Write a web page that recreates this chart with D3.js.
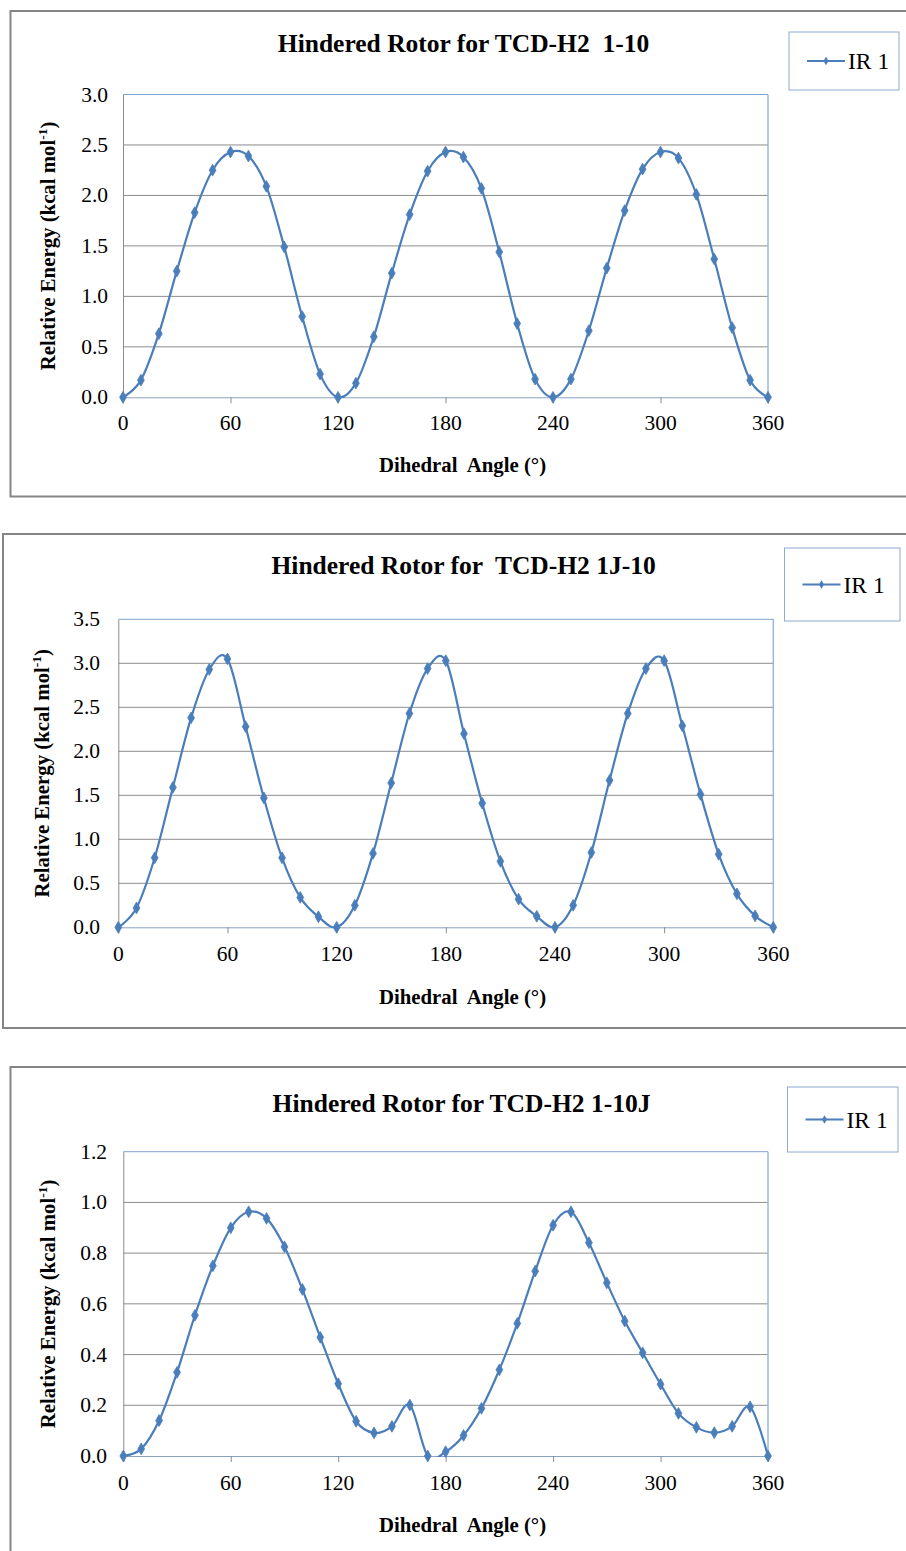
<!DOCTYPE html>
<html>
<head>
<meta charset="utf-8">
<script src="https://cdn.jsdelivr.net/npm/d3@7"></script>
<style>
  html, body { margin: 0; padding: 0; background: #fff; }
  svg { display: block; }
  text { font-family: "Liberation Serif", "Times New Roman", serif; fill: #000; white-space: pre; }
</style>
</head>
<body>
<script>
// ---------- data ----------
const angles = [0,10,20,30,40,50,60,70,80,90,100,110,120,130,140,150,160,170,180,
                190,200,210,220,230,240,250,260,270,280,290,300,310,320,330,340,350,360];

const energy_1_10 = [0.00,0.17,0.63,1.25,1.83,2.25,2.43,2.39,2.09,1.49,0.80,0.23,0.00,0.14,0.60,1.23,1.81,2.24,
                     2.43,2.38,2.07,1.44,0.73,0.18,0.00,0.18,0.66,1.28,1.85,2.26,2.43,2.37,2.01,1.37,0.69,0.17,0.00];

const energy_1J_10 = [0.00,0.22,0.79,1.59,2.38,2.93,3.05,2.28,1.47,0.79,0.34,0.12,0.00,0.25,0.84,1.64,2.43,2.94,
                      3.03,2.20,1.41,0.75,0.32,0.125,0.00,0.25,0.85,1.67,2.43,2.94,3.03,2.29,1.51,0.83,0.38,0.13,0.00];

const energy_1_10J = [0.00,0.028,0.14,0.33,0.555,0.75,0.90,0.963,0.937,0.825,0.657,0.468,0.285,0.137,0.091,0.117,0.201,0.00,
                      0.017,0.081,0.188,0.34,0.523,0.729,0.91,0.963,0.841,0.683,0.532,0.407,0.283,0.168,0.113,0.092,0.117,0.194,0.00];

const xTicks = [0,60,120,180,240,300,360];
const yTicks_1_10  = [0,0.5,1.0,1.5,2.0,2.5,3.0];
const yTicks_1J_10 = [0,0.5,1.0,1.5,2.0,2.5,3.0,3.5];
const yTicks_1_10J = [0,0.2,0.4,0.6,0.8,1.0,1.2];

const titles = ["Hindered Rotor for TCD-H2  1-10", "Hindered Rotor for  TCD-H2 1J-10", "Hindered Rotor for TCD-H2 1-10J"];
const seriesName = "IR 1";
const xAxisTitle = "Dihedral  Angle (\u00B0)";
const yAxisTitleMain = "Relative Energy (kcal mol";
const yAxisTitleSup = "-1";

// ---------- layout ----------
const W = 906, H = 1551;
const BLUE = "#4a7ebb";
const charts = [
  { title: titles[0], values: energy_1_10, yTicks: yTicks_1_10,
    frame: {x: 10.5, y: 11, w: 910, h: 485.5},
    plot: {l: 123, r: 768, t: 94.5, b: 397.3},
    legend: {x: 789, y: 32, w: 110, h: 58},
    titleX: 463.5, titleY: 52, tickY: 430, xTitleX: 462.5, xTitleY: 472, yTitleX: 48, yLabelRight: 108 },
  { title: titles[1], values: energy_1J_10, yTicks: yTicks_1J_10,
    frame: {x: 3, y: 534, w: 920, h: 494},
    plot: {l: 118.3, r: 773.3, t: 619.3, b: 927.3},
    legend: {x: 784.5, y: 548, w: 115.5, h: 73},
    titleX: 463.6, titleY: 574, tickY: 960.5, xTitleX: 462.5, xTitleY: 1004, yTitleX: 42, yLabelRight: 100 },
  { title: titles[2], values: energy_1_10J, yTicks: yTicks_1_10J,
    frame: {x: 10.5, y: 1067, w: 910, h: 600},
    plot: {l: 123.3, r: 768, t: 1151.7, b: 1456},
    legend: {x: 787.5, y: 1087, w: 110.5, h: 65},
    titleX: 461.5, titleY: 1112, tickY: 1490, xTitleX: 462.5, xTitleY: 1532, yTitleX: 48, yLabelRight: 107 }
];

const svg = d3.select("body").append("svg").attr("width", W).attr("height", H);

charts.forEach((c, ci) => {
  const g = svg.append("g");
  // frame
  g.append("rect").attr("x", c.frame.x).attr("y", c.frame.y)
    .attr("width", c.frame.w).attr("height", c.frame.h)
    .attr("fill", "#fff").attr("stroke", "#858585").attr("stroke-width", 2);

  const x = d3.scaleLinear().domain([0, 360]).range([c.plot.l, c.plot.r]);
  const yMax = c.yTicks[c.yTicks.length - 1];
  const y = d3.scaleLinear().domain([0, yMax]).range([c.plot.b, c.plot.t]);

  // gridlines
  g.append("g").selectAll("line").data(c.yTicks.filter(v => v > 0 && v < yMax)).join("line")
    .attr("x1", c.plot.l).attr("x2", c.plot.r)
    .attr("y1", d => y(d)).attr("y2", d => y(d))
    .attr("stroke", "#8c8c8c").attr("stroke-width", 1);

  // plot-area border (top & right)
  g.append("line").attr("x1", c.plot.l).attr("x2", c.plot.r).attr("y1", c.plot.t).attr("y2", c.plot.t)
    .attr("stroke", "#7fa3cf").attr("stroke-width", 1);
  g.append("line").attr("x1", c.plot.r).attr("x2", c.plot.r).attr("y1", c.plot.t).attr("y2", c.plot.b)
    .attr("stroke", "#9bb7dc").attr("stroke-width", 1.5);

  // x axis
  const xAxis = d3.axisBottom(x).tickValues(xTicks).tickSize(6).tickFormat(d3.format("d"));
  const xg = g.append("g").attr("transform", `translate(0,${c.plot.b})`).call(xAxis);
  xg.select(".domain").attr("stroke", "#8aa2c0").attr("stroke-width", 1);
  xg.selectAll(".tick line").attr("stroke", "#8c8c8c");
  xg.selectAll(".tick text").remove();
  g.append("g").selectAll("text").data(xTicks).join("text")
    .attr("x", d => x(d)).attr("y", c.tickY)
    .attr("text-anchor", "middle").attr("font-size", 21.5).text(d => d);

  // y axis
  const yAxis = d3.axisLeft(y).tickValues(c.yTicks).tickSize(0);
  const yg = g.append("g").attr("transform", `translate(${c.plot.l},0)`).call(yAxis);
  yg.select(".domain").attr("stroke", "#8c8c8c").attr("stroke-width", 1);
  yg.selectAll(".tick text").remove();
  g.append("g").selectAll("text").data(c.yTicks).join("text")
    .attr("x", c.yLabelRight).attr("y", d => y(d) + 7)
    .attr("text-anchor", "end").attr("font-size", 21.5).text(d => d3.format(".1f")(d));

  // clip for the line
  const clipId = "clip" + ci;
  g.append("clipPath").attr("id", clipId).append("rect")
    .attr("x", c.plot.l - 2).attr("y", c.plot.t).attr("width", c.plot.r - c.plot.l + 4).attr("height", c.plot.b - c.plot.t + 1);

  const pts = angles.map((a, i) => [a, c.values[i]]);
  const line = d3.line().x(d => x(d[0])).y(d => y(d[1])).curve(d3.curveCardinal.tension(0));
  g.append("path").datum(pts).attr("d", line)
    .attr("fill", "none").attr("stroke", BLUE).attr("stroke-width", 2.2)
    .attr("clip-path", `url(#${clipId})`);

  const diamond = d3.symbol().type(d3.symbolDiamond).size(40);
  g.append("g").selectAll("path").data(pts).join("path")
    .attr("d", diamond)
    .attr("transform", d => `translate(${x(d[0])},${y(d[1])})`)
    .attr("fill", BLUE).attr("stroke", BLUE).attr("stroke-width", 0.8);

  // title
  g.append("text").attr("x", c.titleX).attr("y", c.titleY)
    .attr("text-anchor", "middle").attr("font-size", 25.5).attr("font-weight", "bold")
    .text(c.title);

  // x-axis title
  g.append("text").attr("x", c.xTitleX).attr("y", c.xTitleY)
    .attr("text-anchor", "middle").attr("font-size", 20.8).attr("font-weight", "bold")
    .text(xAxisTitle);

  // y-axis title
  const cy = (c.plot.t + c.plot.b) / 2;
  const yt = g.append("text")
    .attr("transform", `translate(${c.yTitleX + 7},${cy}) rotate(-90)`)
    .attr("text-anchor", "middle").attr("font-size", 20.8).attr("font-weight", "bold");
  yt.append("tspan").text(yAxisTitleMain);
  yt.append("tspan").attr("font-size", 13.5).attr("dy", -8).text(yAxisTitleSup);
  yt.append("tspan").attr("dy", 8).text(")");

  // legend
  const L = c.legend;
  g.append("rect").attr("x", L.x).attr("y", L.y).attr("width", L.w).attr("height", L.h)
    .attr("fill", "#fff").attr("stroke", "#8eaad0").attr("stroke-width", 1);
  const ly = L.y + L.h / 2;
  g.append("line").attr("x1", L.x + 18).attr("x2", L.x + 56).attr("y1", ly).attr("y2", ly)
    .attr("stroke", BLUE).attr("stroke-width", 2.2);
  g.append("path").attr("d", d3.symbol().type(d3.symbolDiamond).size(22))
    .attr("transform", `translate(${L.x + 37},${ly})`).attr("fill", BLUE);
  g.append("text").attr("x", L.x + 59).attr("y", ly + 8)
    .attr("font-size", 23.5).text(seriesName);
});
</script>
</body>
</html>
